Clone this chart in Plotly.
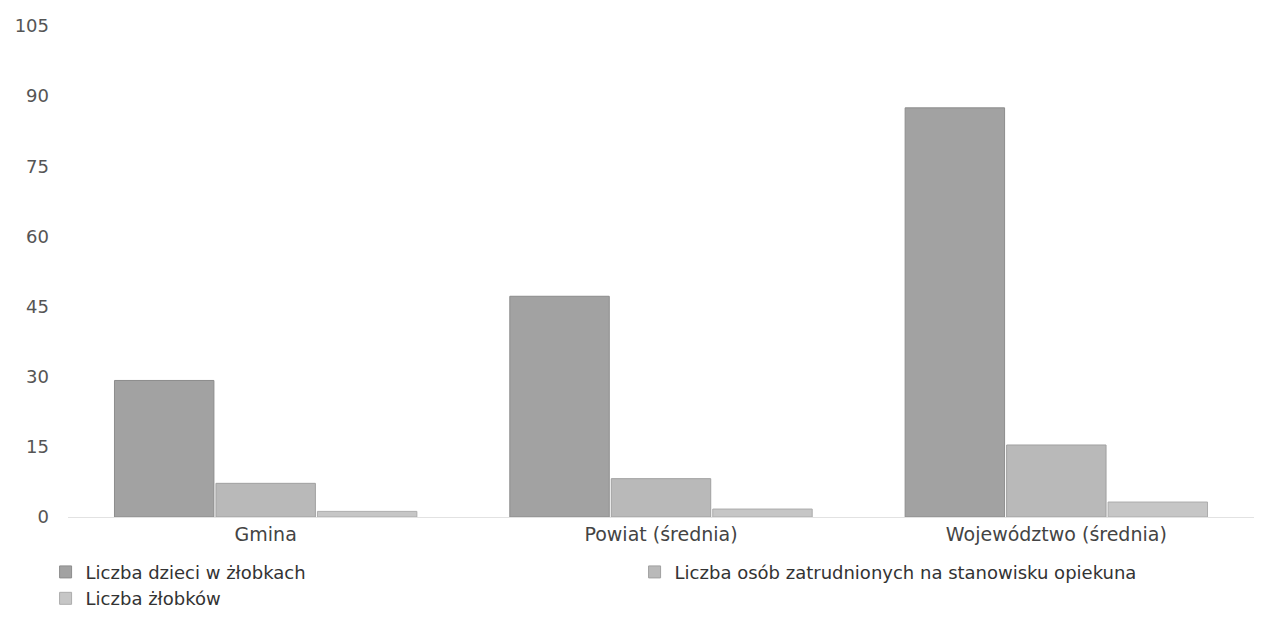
import plotly.graph_objects as go

# Dane
kategorie = ["Gmina", "Powiat (średnia)", "Województwo (średnia)"]
dzieci_w_zlobkach = [29.2, 47.2, 87.5]
osoby_opiekunowie = [7.2, 8.2, 15.4]
liczba_zlobkow = [1.2, 1.7, 3.2]

y_ticks = [0, 15, 30, 45, 60, 75, 90, 105]

serie = [
    ("Liczba dzieci w żłobkach", dzieci_w_zlobkach, "#a2a2a2", "#8c8c8c"),
    ("Liczba osób zatrudnionych na stanowisku opiekuna", osoby_opiekunowie, "#b9b9b9", "#a0a0a0"),
    ("Liczba żłobków", liczba_zlobkow, "#c6c6c6", "#acacac"),
]

fig = go.Figure()

for nazwa, wartosci, kolor, obrys in serie:
    fig.add_trace(go.Bar(
        name=nazwa,
        x=kategorie,
        y=wartosci,
        marker=dict(color=kolor, line=dict(color=obrys, width=1)),
        hovertemplate='<b>%{x}</b><br>%{y}<extra></extra>'
    ))

fig.update_layout(
    barmode='group',
    bargap=0.23,
    bargroupgap=0.02,
    plot_bgcolor='white',
    paper_bgcolor='white',
    margin=dict(l=55, r=7, t=14, b=94),
    font=dict(family="DejaVu Sans", size=18, color="#555555"),
    showlegend=True,
    legend=dict(
        orientation='h',
        xref='container',
        yref='container',
        x=0.03,
        xanchor='left',
        y=0.095,
        yanchor='top',
        entrywidth=544,
        entrywidthmode='pixels',
        font=dict(family="DejaVu Sans", size=18, color="#333333"),
        traceorder='normal',
        tracegroupgap=0,
        itemclick=False,
    ),
)

fig.update_xaxes(
    showgrid=False,
    showline=True,
    linecolor='#e2e2e2',
    linewidth=1,
    ticks='',
    tickfont=dict(size=19, color="#444444"),
)

fig.update_yaxes(
    range=[0, 105],
    tickvals=y_ticks,
    showgrid=False,
    zeroline=False,
    showline=False,
    ticks='',
    ticklabelstandoff=18,
    tickfont=dict(size=18, color="#555555"),
)

fig.write_html("out.html")
